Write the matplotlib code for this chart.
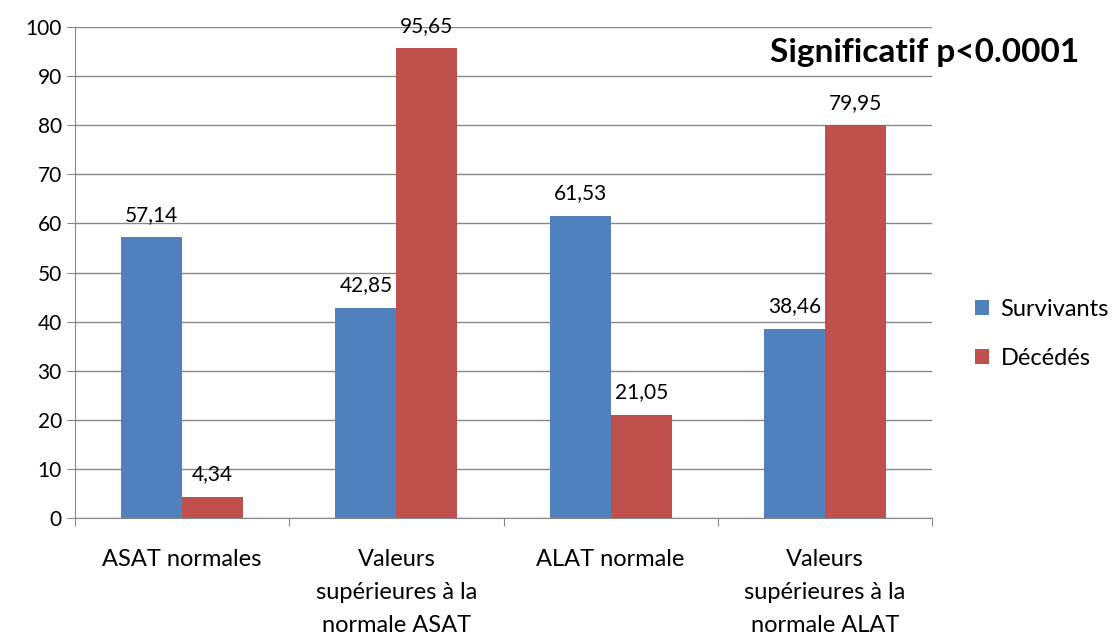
import matplotlib.pyplot as plt
import numpy as np

plt.rcParams['font.family'] = ['Lato', 'DejaVu Sans']

categories = ['ASAT normales', 'Valeurs\nsupérieures à la\nnormale ASAT',
              'ALAT normale', 'Valeurs\nsupérieures à la\nnormale ALAT']
survivants = [57.14, 42.85, 61.53, 38.46]
decedes = [4.34, 95.65, 21.05, 79.95]
series_names = ['Survivants', 'Décédés']
colors = ['#4F81BD', '#C0504D']

fig = plt.figure(figsize=(11.15, 6.37), dpi=100)
ax = fig.add_axes([0.0673, 0.1868, 0.7686, 0.7708])

x = np.arange(len(categories))
w = 0.285
b1 = ax.bar(x - w / 2, survivants, w, color=colors[0], label=series_names[0], zorder=3)
b2 = ax.bar(x + w / 2, decedes, w, color=colors[1], label=series_names[1], zorder=3)

for bars, vals in ((b1, survivants), (b2, decedes)):
    for r, v in zip(bars, vals):
        ax.text(r.get_x() + r.get_width() / 2, v + 2.6, f'{v:.2f}'.replace('.', ','),
                ha='center', va='bottom', fontsize=15)

ax.set_xlim(-0.5, 3.5)
ax.set_ylim(0, 100)
ax.set_yticks(np.arange(0, 101, 10))
ax.yaxis.grid(True, color='#888888', linewidth=1, zorder=0)
ax.set_axisbelow(True)
ax.set_xticks(np.arange(-0.5, 4, 1))
ax.set_xticklabels([])
ax.set_xticks(x, minor=True)
ax.set_xticklabels(categories, minor=True, fontsize=17, linespacing=1.72, va='top')
ax.tick_params(axis='x', which='minor', length=0, pad=22)
ax.tick_params(axis='x', which='major', length=6, color='#888888')
ax.tick_params(axis='y', length=6, color='#888888', labelsize=15)
for s in ['top', 'right']:
    ax.spines[s].set_visible(False)
for s in ['left', 'bottom']:
    ax.spines[s].set_color('#888888')

fig.text(0.968, 0.918, 'Significatif p<0.0001', ha='right', va='center',
         fontsize=24, fontweight='bold')

ax.legend(loc='center left', bbox_to_anchor=(1.025, 0.375), frameon=False,
          fontsize=17, handlelength=0.6, handleheight=0.6, labelspacing=1.2,
          handletextpad=0.5)

fig.savefig('out.png', dpi=100)
